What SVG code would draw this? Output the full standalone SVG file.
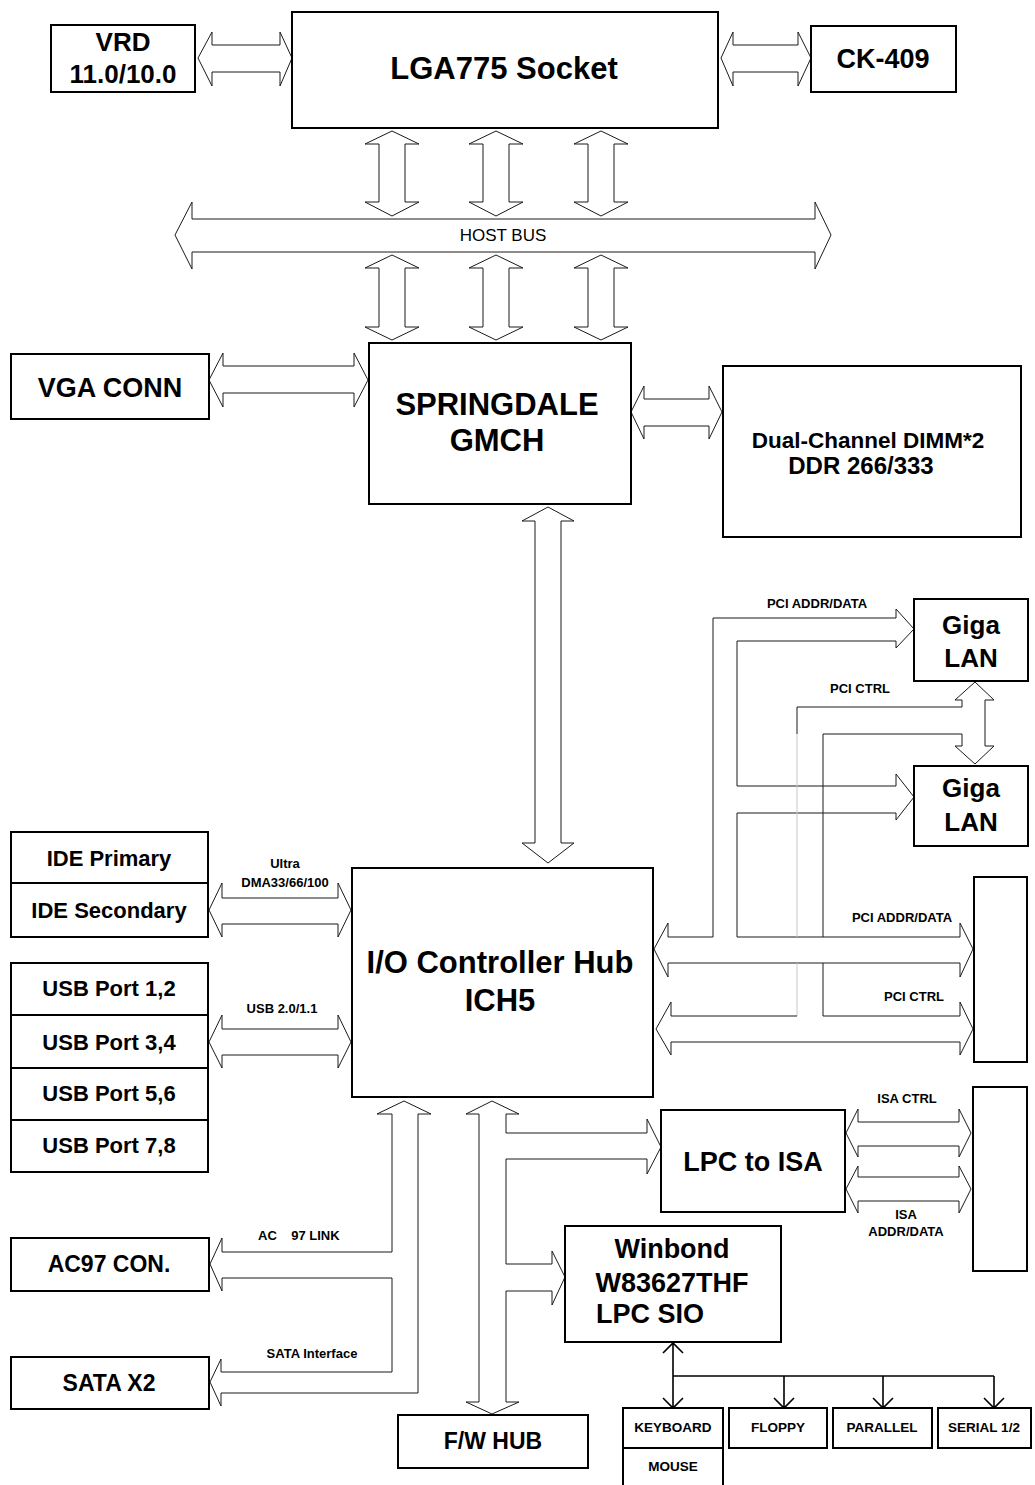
<svg xmlns="http://www.w3.org/2000/svg" width="1035" height="1485" viewBox="0 0 1035 1485">
<style>
.box{fill:#fff;stroke:#000;stroke-width:2}
.ar{fill:#fff;stroke:#1a1a1a;stroke-width:1}
.ln{fill:none;stroke:#1a1a1a;stroke-width:1}
.lt{fill:none;stroke:#c8c8c8;stroke-width:1}
.sio{fill:none;stroke:#000;stroke-width:1.6}
text{font-family:"Liberation Sans",Arial,sans-serif;font-weight:bold;text-anchor:middle;fill:#000}
.f31{font-size:31px}.f27{font-size:27px}.f26{font-size:26px}.f23{font-size:23px}.f22{font-size:22px}.f13{font-size:13px}.f13b{font-size:13.5px}
.reg{font-weight:normal;font-size:17px}
</style>
<rect width="1035" height="1485" fill="#fff"/>
<g id="connectors">
<polygon class="ar" points="198,58 212,32 212,45 280,45 280,32 292,58 280,86 280,72 212,72 212,86"/>
<polygon class="ar" points="721,58 733,32 733,45 798,45 798,32 811,58 798,86 798,72 733,72 733,86"/>
<polygon class="ar" points="392,131 419,144 405,144 405,202 419,202 392,216 365,202 379,202 379,144 365,144"/>
<polygon class="ar" points="496,131 523,144 509,144 509,202 523,202 496,216 469,202 483,202 483,144 469,144"/>
<polygon class="ar" points="601,131 628,144 614,144 614,202 628,202 601,216 574,202 588,202 588,144 574,144"/>
<polygon class="ar" points="175,235 192,202 192,219 815,219 815,202 831,235 815,269 815,252 192,252 192,269"/>
<text class="reg" x="503" y="241">HOST BUS</text>
<polygon class="ar" points="392,255 419,268 405,268 405,327 419,327 392,340 365,327 379,327 379,268 365,268"/>
<polygon class="ar" points="496,255 523,268 509,268 509,327 523,327 496,340 469,327 483,327 483,268 469,268"/>
<polygon class="ar" points="601,255 628,268 614,268 614,327 628,327 601,340 574,327 588,327 588,268 574,268"/>
<polygon class="ar" points="209,380 223,353 223,366 354,366 354,353 368,380 354,407 354,393 223,393 223,407"/>
<polygon class="ar" points="631,412 644,386 644,399 709,399 709,386 722,412 709,439 709,426 644,426 644,439"/>
<polygon class="ar" points="548,507 574,521 561,521 561,843 574,843 548,863 522,843 535,843 535,521 522,521"/>
<polygon class="ar" points="209,910 222,883 222,898 338,898 338,883 351,910 338,937 338,924 222,924 222,937"/>
<text class="f13" x="285" y="868">Ultra</text>
<text class="f13" x="285" y="887">DMA33/66/100</text>
<polygon class="ar" points="209,1042 222,1015 222,1029 338,1029 338,1015 351,1042 338,1068 338,1055 222,1055 222,1068"/>
<text class="f13" x="282" y="1013">USB 2.0/1.1</text>
<path class="ln" d="M713,937 V618 H896 V609 L914,629 L896,648 V641 H737 V786 H896 V774 L914,797 L896,820 V813 H737 V937"/>
<path class="ln" d="M713,937 H668 V923 L654,949 L668,977 V963 H960 V977 L973,949 L960,923 V937 H737"/>
<text class="f13" x="817" y="608">PCI ADDR/DATA</text>
<text class="f13" x="902" y="922">PCI ADDR/DATA</text>
<path class="ln" d="M962,707 H797 V734"/>
<path class="lt" d="M797,734 V937 M797,963 V1016"/>
<path class="ln" d="M823,937 V734 H962 M823,963 V1016"/>
<path class="ln" d="M797,1016 H671 V1002 L656,1029 L671,1055 V1042 H960 V1055 L973,1029 L960,1002 V1016 H823"/>
<path class="ln" d="M962,707 V700 H955 L975,682 L994,700 H985 V746 H994 L975,764 L955,746 H962 V734"/>
<text class="f13" x="860" y="693">PCI CTRL</text>
<text class="f13" x="914" y="1001">PCI CTRL</text>
<path class="ln" d="M392,1252 V1114 H377 L404,1101 L431,1114 H418 V1393 H221 V1406 L210,1382 L221,1359 V1372 H392 V1278 H222 V1291 L210,1264 L222,1238 V1252 Z"/>
<text class="f13" x="258" y="1240" style="text-anchor:start;white-space:pre" xml:space="preserve">AC    97 LINK</text>
<text class="f13" x="312" y="1358">SATA Interface</text>
<path class="ln" d="M479,1114 H466 L492,1101 L519,1114 H506 V1133 H647 V1119 L661,1147 L647,1174 V1159 H506 V1264 H552 V1251 L565,1277 L552,1305 V1291 H506 V1402 H519 L492,1414 L466,1402 H479 Z"/>
<polygon class="ar" points="846,1133 858,1109 858,1122 959,1122 959,1109 971,1133 959,1157 959,1146 858,1146 858,1157"/>
<polygon class="ar" points="846,1189 858,1166 858,1177 959,1177 959,1166 971,1189 959,1213 959,1201 858,1201 858,1213"/>
<text class="f13" x="907" y="1103">ISA CTRL</text>
<text class="f13" x="906" y="1219">ISA</text>
<text class="f13" x="906" y="1236">ADDR/DATA</text>
<path class="sio" d="M673,1343 V1408 M663,1353 L673,1343 L683,1353 M663,1398 L673,1408 L683,1398 M673,1376 H994 M784,1376 V1408 M774,1398 L784,1408 L794,1398 M883,1376 V1408 M873,1398 L883,1408 L893,1398 M994,1376 V1408 M984,1398 L994,1408 L1004,1398"/>
</g>
<g id="vrd"><rect class="box" x="51" y="25" width="144" height="67"/><text class="f26" x="123" y="51">VRD</text><text class="f26" x="123" y="83">11.0/10.0</text></g>
<g id="lga775"><rect class="box" x="292" y="12" width="426" height="116"/><text class="f31" x="504" y="79">LGA775 Socket</text></g>
<g id="ck409"><rect class="box" x="811" y="26" width="145" height="66"/><text class="f27" x="883" y="68">CK-409</text></g>
<g id="vga"><rect class="box" x="11" y="354" width="198" height="65"/><text class="f27" x="110" y="397">VGA CONN</text></g>
<g id="gmch"><rect class="box" x="369" y="343" width="262" height="161"/><text class="f31" x="497" y="415">SPRINGDALE</text><text class="f31" x="497" y="451">GMCH</text></g>
<g id="dimm"><rect class="box" x="723" y="366" width="298" height="171"/><text x="868" y="448" style="font-size:22.5px">Dual-Channel DIMM*2</text><text x="861" y="474" style="font-size:24px">DDR 266/333</text></g>
<g id="lan1"><rect class="box" x="914" y="599" width="114" height="82"/><text class="f26" x="971" y="634">Giga</text><text class="f26" x="971" y="667">LAN</text></g>
<g id="lan2"><rect class="box" x="914" y="766" width="114" height="80"/><text class="f26" x="971" y="797">Giga</text><text class="f26" x="971" y="831">LAN</text></g>
<g id="ide"><rect class="box" x="11" y="832" width="197" height="51"/><text class="f22" x="109" y="866">IDE Primary</text><rect class="box" x="11" y="883" width="197" height="54"/><text class="f22" x="109" y="918">IDE Secondary</text></g>
<g id="usb"><rect class="box" x="11" y="963" width="197" height="52"/><text class="f22" x="109" y="996">USB Port 1,2</text><rect class="box" x="11" y="1015" width="197" height="53"/><text class="f22" x="109" y="1050">USB Port 3,4</text><rect class="box" x="11" y="1068" width="197" height="52"/><text class="f22" x="109" y="1101">USB Port 5,6</text><rect class="box" x="11" y="1120" width="197" height="52"/><text class="f22" x="109" y="1153">USB Port 7,8</text></g>
<g id="ich5"><rect class="box" x="352" y="868" width="301" height="229"/><text class="f31" x="500" y="973">I/O Controller Hub</text><text class="f31" x="500" y="1011">ICH5</text></g>
<g id="pci-slot"><rect class="box" x="974" y="877" width="53" height="185"/></g>
<g id="lpc-isa"><rect class="box" x="661" y="1110" width="184" height="102"/><text class="f27" x="753" y="1171">LPC to ISA</text></g>
<g id="isa-slot"><rect class="box" x="973" y="1087" width="54" height="184"/></g>
<g id="sio"><rect class="box" x="565" y="1226" width="216" height="116"/><text class="f27" x="672" y="1258">Winbond</text><text class="f27" x="672" y="1292">W83627THF</text><text class="f27" x="596" y="1323" style="text-anchor:start">LPC SIO</text></g>
<g id="ac97"><rect class="box" x="11" y="1238" width="198" height="53"/><text class="f23" x="109" y="1272">AC97 CON.</text></g>
<g id="sata"><rect class="box" x="11" y="1357" width="198" height="52"/><text class="f23" x="109" y="1391">SATA X2</text></g>
<g id="fwhub"><rect class="box" x="398" y="1415" width="190" height="53"/><text class="f23" x="493" y="1449">F/W HUB</text></g>
<g id="keyboard"><rect class="box" x="623" y="1408" width="100" height="40"/><text class="f13b" x="673" y="1432">KEYBOARD</text></g>
<g id="mouse"><rect class="box" x="623" y="1448" width="100" height="44"/><text class="f13b" x="673" y="1471">MOUSE</text></g>
<g id="floppy"><rect class="box" x="729" y="1408" width="98" height="40"/><text class="f13b" x="778" y="1432">FLOPPY</text></g>
<g id="parallel"><rect class="box" x="833" y="1408" width="99" height="40"/><text class="f13b" x="882" y="1432">PARALLEL</text></g>
<g id="serial"><rect class="box" x="938" y="1408" width="93" height="40"/><text class="f13b" x="984" y="1432">SERIAL 1/2</text></g>
</svg>
